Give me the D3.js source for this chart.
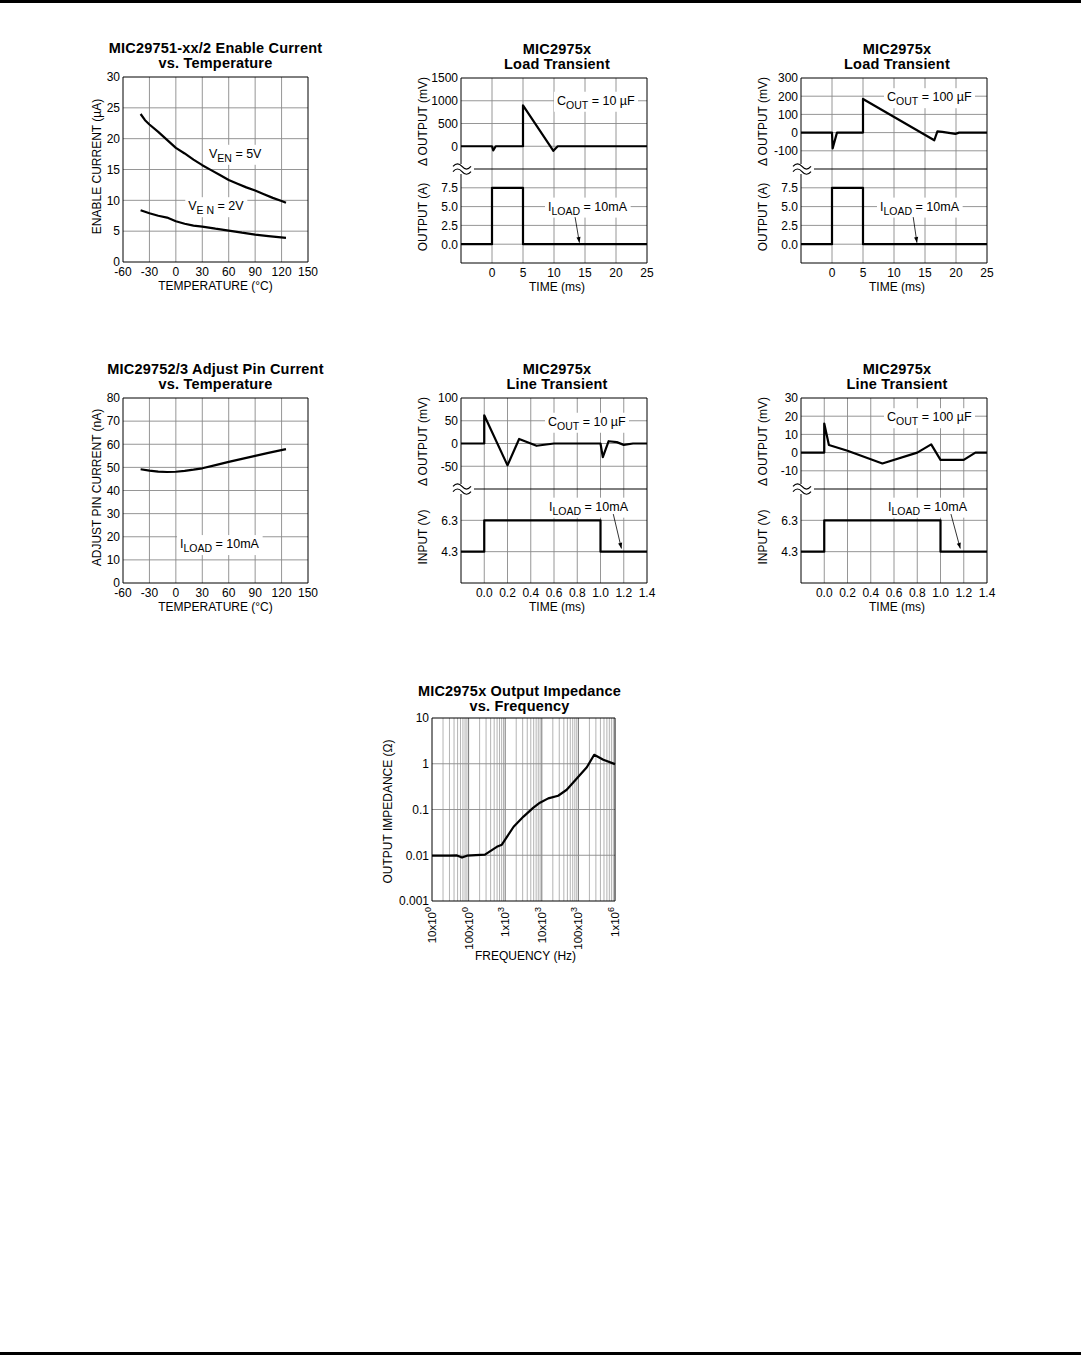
<!DOCTYPE html>
<html>
<head>
<meta charset="utf-8">
<script src="https://cdn.jsdelivr.net/npm/d3@7"></script>
<style>
body { margin: 0; background: #fff; }
svg text { font-family: "Liberation Sans", Arial, Helvetica, sans-serif; fill: #000; }
</style>
</head>
<body>
<svg width="1081" height="1356"></svg>
<script>
// ---- data ----
var tempTicks = [-60, -30, 0, 30, 60, 90, 120, 150];

var enTemps5 = [-40, -35, -30, -20, -10, 0, 10, 20, 30, 40, 50, 60, 70, 80, 90, 100, 110, 120, 125];
var enCurrent5V = [24, 23, 22.3, 21.1, 19.8, 18.5, 17.6, 16.6, 15.7, 14.9, 14.1, 13.3, 12.7, 12.1, 11.6, 11.0, 10.4, 9.9, 9.6];
var enTemps2 = [-40, -30, -20, -10, 0, 10, 20, 30, 45, 60, 75, 90, 105, 125];
var enCurrent2V = [8.4, 7.9, 7.5, 7.2, 6.6, 6.2, 5.9, 5.75, 5.4, 5.1, 4.75, 4.45, 4.2, 3.9];
var enTicks = [0, 5, 10, 15, 20, 25, 30];

var adjTemps = [-40, -30, -20, -10, 0, 10, 20, 30, 45, 60, 75, 90, 105, 125];
var adjCurrent = [49.2, 48.6, 48.2, 48.0, 48.1, 48.5, 49.0, 49.6, 51.0, 52.4, 53.7, 55.0, 56.3, 57.9];
var adjTicks = [0, 10, 20, 30, 40, 50, 60, 70, 80];

var loadTimeTicks = [0, 5, 10, 15, 20, 25];
var load10Time = [-5, 0, 0.2, 0.6, 5, 5, 9.9, 10.6, 25];
var load10Out = [0, 0, -90, 0, 0, 900, -100, 0, 0];
var load100Time = [-5, 0, 0.1, 0.8, 5, 5, 16.5, 17, 17.8, 19.9, 20.5, 25];
var load100Out = [0, 0, -87, 0, 0, 185, -42, 7, 4, -7, 0, 0];
var loadStepTime = [-5, 0, 0, 5, 5, 25];
var loadStepAmps = [0, 0, 7.5, 7.5, 0, 0];
var out10Ticks = [1500, 1000, 500, 0];
var out100Ticks = [300, 200, 100, 0, -100];
var ampTicks = [7.5, 5, 2.5, 0];

var lineTimeTicks = [0, 0.2, 0.4, 0.6, 0.8, 1.0, 1.2, 1.4];
var line10Time = [-0.2, 0, 0, 0.2, 0.3, 0.45, 0.6, 1.0, 1.02, 1.07, 1.14, 1.2, 1.28, 1.4];
var line10Out = [0, 0, 62, -48, 10, -5, 0, 0, -30, 5, 3, -3, 0, 0];
var line100Time = [-0.2, 0, 0, 0.04, 0.2, 0.5, 0.8, 0.92, 1.0, 1.2, 1.3, 1.4];
var line100Out = [0, 0, 16, 4.2, 1, -6, 0, 4.5, -4, -4, 0, 0];
var lineStepTime = [-0.2, 0, 0, 1, 1, 1.4];
var lineStepVolts = [4.3, 4.3, 6.3, 6.3, 4.3, 4.3];
var line10Ticks = [100, 50, 0, -50];
var line100Ticks = [30, 20, 10, 0, -10];
var voltTicks = [6.3, 4.3];

var freqHz = [10, 30, 48, 66, 90, 280, 590, 810, 1700, 3160, 5900, 8900, 15000, 28000, 48000, 89000, 170000, 270000, 480000, 1000000];
var impedanceOhm = [0.0098, 0.0098, 0.0099, 0.0089, 0.0098, 0.0103, 0.0153, 0.017, 0.042, 0.07, 0.11, 0.141, 0.175, 0.2, 0.27, 0.47, 0.84, 1.57, 1.22, 0.98];
var freqTicks = [10, 100, 1e3, 1e4, 1e5, 1e6];
var freqTickBase = ["10x10", "100x10", "1x10", "10x10", "100x10", "1x10"];
var freqTickExp = ["0", "0", "3", "3", "3", "6"];
var impTicks = [10, 1, 0.1, 0.01, 0.001];
var impTickLabels = ["10", "1", "0.1", "0.01", "0.001"];

var svg = d3.select("svg");

// page rules
svg.append("rect").attr("x", 0).attr("y", 0).attr("width", 1081).attr("height", 3).attr("fill", "#000");
svg.append("rect").attr("x", 0).attr("y", 1352).attr("width", 1081).attr("height", 3).attr("fill", "#000");

var gridColor = "#8a8a8a";

function title(g, cx, top, l1, l2) {
  [l1, l2].forEach(function(s, i) {
    g.append("text").attr("x", cx).attr("y", top - 24 + i * 15)
      .attr("text-anchor", "middle").attr("font-weight", "bold")
      .attr("font-size", 14.5).attr("letter-spacing", 0.2).text(s);
  });
}

function vGrid(g, x, ticks, y0, y1, color) {
  g.append("g").selectAll("line").data(ticks).enter().append("line")
    .attr("x1", function(d) { return x(d); }).attr("x2", function(d) { return x(d); })
    .attr("y1", y0).attr("y2", y1)
    .attr("stroke", color || gridColor).attr("stroke-width", 0.9);
}

function hGrid(g, y, ticks, x0, x1) {
  g.append("g").selectAll("line").data(ticks).enter().append("line")
    .attr("y1", function(d) { return y(d); }).attr("y2", function(d) { return y(d); })
    .attr("x1", x0).attr("x2", x1)
    .attr("stroke", gridColor).attr("stroke-width", 0.9);
}

function yTickLabels(g, y, ticks, x0, labels) {
  g.append("g").selectAll("text").data(ticks).enter().append("text")
    .attr("x", x0 - 3).attr("y", function(d) { return y(d); })
    .attr("dy", "0.36em").attr("text-anchor", "end").attr("font-size", 12)
    .text(function(d, i) { return labels[i]; });
}

function xTickLabels(g, x, ticks, y1, fmt) {
  g.append("g").selectAll("text").data(ticks).enter().append("text")
    .attr("x", function(d) { return x(d); }).attr("y", y1 + 14)
    .attr("text-anchor", "middle").attr("font-size", 12)
    .text(fmt);
}

function xTitle(g, cx, y, s) {
  g.append("text").attr("x", cx).attr("y", y).attr("text-anchor", "middle")
    .attr("font-size", 12).text(s);
}

function yTitle(g, x, cy, s) {
  g.append("text").attr("transform", "translate(" + x + "," + cy + ") rotate(-90)")
    .attr("text-anchor", "middle").attr("font-size", 12).text(s);
}

function border(g, x0, x1, y0, y1, yb) {
  var st = "#000";
  g.append("line").attr("x1", x0).attr("x2", x1).attr("y1", y0).attr("y2", y0).attr("stroke", st);
  g.append("line").attr("x1", x0).attr("x2", x1).attr("y1", y1).attr("y2", y1).attr("stroke", st);
  g.append("line").attr("x1", x1).attr("x2", x1).attr("y1", y0).attr("y2", y1).attr("stroke", st);
  if (yb == null) {
    g.append("line").attr("x1", x0).attr("x2", x0).attr("y1", y0).attr("y2", y1).attr("stroke", st);
  } else {
    g.append("line").attr("x1", x0).attr("x2", x0).attr("y1", y0).attr("y2", yb - 5).attr("stroke", st);
    g.append("line").attr("x1", x0).attr("x2", x0).attr("y1", yb + 5).attr("y2", y1).attr("stroke", st);
    g.append("line").attr("x1", x0 + 13).attr("x2", x1).attr("y1", yb).attr("y2", yb).attr("stroke", st);
    [-2.6, 2.6].forEach(function(o) {
      g.append("path")
        .attr("d", "M" + (x0 - 8) + "," + (yb + o) + " c3,-3.5 6,-3.5 9,0 s6,3.5 9,0")
        .attr("fill", "none").attr("stroke", st).attr("stroke-width", 1.2);
    });
  }
}

function trace(g, x, y, xs, ys) {
  var line = d3.line().x(function(d) { return x(d[0]); }).y(function(d) { return y(d[1]); });
  g.append("path").datum(d3.zip(xs, ys)).attr("d", line)
    .attr("fill", "none").attr("stroke", "#000").attr("stroke-width", 2.2)
    .attr("stroke-linejoin", "round");
}

// text with subscripts on a white box
function note(g, x, y, parts) {
  var t = g.append("text").attr("x", x).attr("y", y).attr("font-size", 12.5);
  var lift = false;
  parts.forEach(function(p) {
    if (typeof p === "string") {
      var s = t.append("tspan").text(p);
      if (lift) s.attr("dy", -4);
      lift = false;
    } else {
      t.append("tspan").attr("dy", 4).attr("font-size", 10.5).text(p.sub);
      lift = true;
    }
  });
  var bb = t.node().getBBox();
  g.insert("rect", function() { return t.node(); })
    .attr("x", bb.x - 3).attr("y", bb.y - 2).attr("width", bb.width + 6).attr("height", bb.height + 3)
    .attr("fill", "#fff");
}

function arrow(g, x1, y1, x2, y2) {
  g.append("line").attr("x1", x1).attr("y1", y1).attr("x2", x2).attr("y2", y2)
    .attr("stroke", "#000").attr("stroke-width", 0.8);
  var a = Math.atan2(y2 - y1, x2 - x1), L = 6, w = 0.35;
  var p = [[x2, y2],
           [x2 - L * Math.cos(a - w), y2 - L * Math.sin(a - w)],
           [x2 - L * Math.cos(a + w), y2 - L * Math.sin(a + w)]];
  g.append("path").attr("d", "M" + p.join("L") + "Z").attr("fill", "#000");
}

// ---- temperature charts (left column) ----
function tempChart(top, ticksY, ttl1, ttl2, yLabel, yMax, draw) {
  var x0 = 123, x1 = 308, y0 = top, y1 = top + 185;
  var g = svg.append("g");
  var x = d3.scaleLinear().domain([-60, 150]).range([x0, x1]);
  var y = d3.scaleLinear().domain([0, yMax]).range([y1, y0]);
  title(g, (x0 + x1) / 2, y0, ttl1, ttl2);
  vGrid(g, x, tempTicks.slice(1, -1), y0, y1);
  hGrid(g, y, ticksY.slice(1, -1), x0, x1);
  border(g, x0, x1, y0, y1);
  yTickLabels(g, y, ticksY, x0, ticksY.map(String));
  xTickLabels(g, x, tempTicks, y1, function(d) { return d; });
  xTitle(g, (x0 + x1) / 2, y1 + 27.5, "TEMPERATURE (\u00b0C)");
  yTitle(g, x0 - 22, (y0 + y1) / 2 - 3, yLabel);
  draw(g, x, y);
}

tempChart(77, enTicks, "MIC29751-xx/2 Enable Current", "vs. Temperature",
  "ENABLE CURRENT (\u00b5A)", 30, function(g, x, y) {
    note(g, x(37.6), y(16.9), ["V", {sub: "EN"}, " = 5V"]);
    note(g, x(14.1), y(8.4), ["V", {sub: "E N"}, " = 2V"]);
    trace(g, x, y, enTemps5, enCurrent5V);
    trace(g, x, y, enTemps2, enCurrent2V);
  });

tempChart(398, adjTicks, "MIC29752/3 Adjust Pin Current", "vs. Temperature",
  "ADJUST PIN CURRENT (nA)", 80, function(g, x, y) {
    note(g, x(4.7), y(15.1), ["I", {sub: "LOAD"}, " = 10mA"]);
    trace(g, x, y, adjTemps, adjCurrent);
  });

// ---- transient charts ----
function transientChart(cfg) {
  var x0 = cfg.x0, x1 = cfg.x0 + 186, y0 = cfg.top, yb = cfg.top + 91, y1 = cfg.top + 185;
  var g = svg.append("g");
  var x = d3.scaleLinear().domain(cfg.xDomain).range([x0, x1]);
  var yU = d3.scaleLinear().domain(cfg.upDomain).range([yb, y0]);
  var yL = d3.scaleLinear().domain(cfg.lowDomain).range([y1, yb]);
  title(g, (x0 + x1) / 2 + 3, y0, "MIC2975x", cfg.title2);
  vGrid(g, x, cfg.xTicks.slice(0, -1), y0, y1);
  hGrid(g, yU, cfg.upTicks.slice(1), x0, x1);
  hGrid(g, yL, cfg.lowTicks, x0, x1);
  border(g, x0, x1, y0, y1, yb);
  yTickLabels(g, yU, cfg.upTicks, x0, cfg.upTicks.map(String));
  yTickLabels(g, yL, cfg.lowTicks, x0, cfg.lowTicks.map(d3.format(".1f")));
  xTickLabels(g, x, cfg.xTicks, y1, cfg.xFmt);
  xTitle(g, (x0 + x1) / 2 + 3, y1 + 27.5, "TIME (ms)");
  yTitle(g, x0 - 34, (y0 + yb) / 2 - 2, "\u0394 OUTPUT (mV)");
  yTitle(g, x0 - 34, (yb + y1) / 2 + 1, cfg.lowLabel);
  note(g, x0 + cfg.coutDx, cfg.coutY(yU), ["C", {sub: "OUT"}, cfg.cout]);
  note(g, x0 + cfg.iloadDx, cfg.iloadY(yL), ["I", {sub: "LOAD"}, " = 10mA"]);
  trace(g, x, yU, cfg.upTime, cfg.upVals);
  trace(g, x, yL, cfg.lowTime, cfg.lowVals);
  var a = cfg.arrow;
  arrow(g, x(a[0]), yL(a[1]), x(a[2]), yL(a[3]));
}

transientChart({
  x0: 461, top: 78, title2: "Load Transient", xDomain: [-5, 25], xTicks: loadTimeTicks,
  xFmt: function(d) { return d; },
  upDomain: [-500, 1500], upTicks: out10Ticks, lowDomain: [-2.5, 10], lowTicks: ampTicks,
  lowLabel: "OUTPUT (A)", cout: " = 10 \u00b5F", coutDx: 96, coutY: function(y) { return y(1000) + 4; },
  iloadDx: 87, iloadY: function(y) { return y(5) + 4; },
  upTime: load10Time, upVals: load10Out, lowTime: loadStepTime, lowVals: loadStepAmps,
  arrow: [13.4, 3.6, 14.1, 0.2]
});

transientChart({
  x0: 801, top: 78, title2: "Load Transient", xDomain: [-5, 25], xTicks: loadTimeTicks,
  xFmt: function(d) { return d; },
  upDomain: [-200, 300], upTicks: out100Ticks, lowDomain: [-2.5, 10], lowTicks: ampTicks,
  lowLabel: "OUTPUT (A)", cout: " = 100 \u00b5F", coutDx: 86, coutY: function(y) { return y(200) + 5; },
  iloadDx: 79, iloadY: function(y) { return y(5) + 4; },
  upTime: load100Time, upVals: load100Out, lowTime: loadStepTime, lowVals: loadStepAmps,
  arrow: [13.1, 3.6, 13.7, 0.2]
});

transientChart({
  x0: 461, top: 398, title2: "Line Transient", xDomain: [-0.2, 1.4], xTicks: lineTimeTicks,
  xFmt: d3.format(".1f"),
  upDomain: [-100, 100], upTicks: line10Ticks, lowDomain: [2.3, 8.3], lowTicks: voltTicks,
  lowLabel: "INPUT (V)", cout: " = 10 \u00b5F", coutDx: 87, coutY: function(y) { return y(50) + 5; },
  iloadDx: 88, iloadY: function(y) { return y(7.3) + 6; },
  upTime: line10Time, upVals: line10Out, lowTime: lineStepTime, lowVals: lineStepVolts,
  arrow: [1.11, 6.7, 1.18, 4.5]
});

transientChart({
  x0: 801, top: 398, title2: "Line Transient", xDomain: [-0.2, 1.4], xTicks: lineTimeTicks,
  xFmt: d3.format(".1f"),
  upDomain: [-20, 30], upTicks: line100Ticks, lowDomain: [2.3, 8.3], lowTicks: voltTicks,
  lowLabel: "INPUT (V)", cout: " = 100 \u00b5F", coutDx: 86, coutY: function(y) { return y(20) + 5; },
  iloadDx: 87, iloadY: function(y) { return y(7.3) + 6; },
  upTime: line100Time, upVals: line100Out, lowTime: lineStepTime, lowVals: lineStepVolts,
  arrow: [1.09, 6.7, 1.17, 4.5]
});

// ---- output impedance vs frequency ----
(function() {
  var x0 = 432, x1 = 615, y0 = 718, y1 = 901;
  var g = svg.append("g");
  var x = d3.scaleLog().domain([10, 1e6]).range([x0, x1]);
  var y = d3.scaleLog().domain([0.001, 10]).range([y1, y0]);
  title(g, (x0 + x1) / 2 - 4, y0 + 2, "MIC2975x Output Impedance", "vs. Frequency");
  var minors = [];
  freqTicks.slice(0, -1).forEach(function(d) {
    for (var k = 2; k < 10; k++) minors.push(d * k);
  });
  vGrid(g, x, minors, y0, y1, "#aaa");
  vGrid(g, x, freqTicks.slice(1, -1), y0, y1, "#666");
  hGrid(g, y, impTicks.slice(1, -1), x0, x1);
  border(g, x0, x1, y0, y1);
  yTickLabels(g, y, impTicks, x0, impTickLabels);
  var lab = g.append("g").selectAll("text").data(freqTicks).enter().append("text")
    .attr("transform", function(d) { return "translate(" + (x(d) + 4) + "," + (y1 + 6) + ") rotate(-90)"; })
    .attr("text-anchor", "end").attr("font-size", 11.5);
  lab.append("tspan").text(function(d, i) { return freqTickBase[i]; });
  lab.append("tspan").attr("dy", -5).attr("font-size", 9).text(function(d, i) { return freqTickExp[i]; });
  xTitle(g, (x0 + x1) / 2 + 2, y1 + 59, "FREQUENCY (Hz)");
  yTitle(g, x0 - 40, (y0 + y1) / 2 + 2, "OUTPUT IMPEDANCE (\u03a9)");
  trace(g, x, y, freqHz, impedanceOhm);
})();
</script>
</body>
</html>
